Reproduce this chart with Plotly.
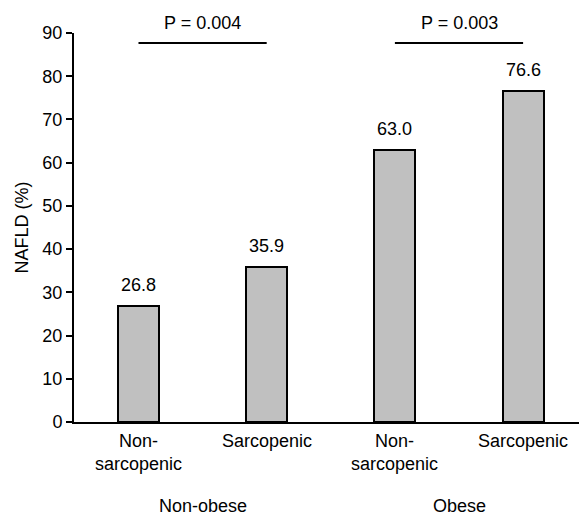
import plotly.graph_objects as go

categories = ["Non-<br>sarcopenic", "Sarcopenic", "Non-<br>sarcopenic", "Sarcopenic"]
values = [26.8, 35.9, 63.0, 76.6]
value_labels = ["26.8", "35.9", "63.0", "76.6"]
groups = ["Non-obese", "Obese"]
p_values = ["P = 0.004", "P = 0.003"]
y_ticks = [0, 10, 20, 30, 40, 50, 60, 70, 80, 90]
sig_level = 87.7

FONT = "Liberation Sans, Arial, sans-serif"
FS = 18
x_idx = list(range(len(values)))

fig = go.Figure()
fig.add_trace(go.Bar(
    x=x_idx, y=values, width=0.32,
    marker=dict(color="#c0c0c0", line=dict(color="black", width=2)),
    hoverinfo="skip", showlegend=False,
))

annotations = []
for i, (v, t) in enumerate(zip(values, value_labels)):
    annotations.append(dict(x=i, y=v, xref="x", yref="y", text=t, showarrow=False,
                            yanchor="bottom", yshift=9, font=dict(size=FS, color="black", family=FONT)))
for i, c in enumerate(categories):
    annotations.append(dict(x=i, y=0, xref="x", yref="y", text=c, showarrow=False,
                            yanchor="top", yshift=-7, font=dict(size=FS, color="black", family=FONT)))
for g, (grp, p) in enumerate(zip(groups, p_values)):
    mid = 2 * g + 0.5
    annotations.append(dict(x=mid, y=-0.216, xref="x", yref="paper", text=grp, showarrow=False,
                            yanchor="middle", borderpad=0,
                            font=dict(size=FS, color="black", family=FONT)))
    annotations.append(dict(x=mid, y=sig_level, xref="x", yref="y", text=p, showarrow=False,
                            yanchor="bottom", yshift=8, font=dict(size=FS, color="black", family=FONT)))
    fig.add_shape(type="line", x0=2 * g, x1=2 * g + 1, y0=sig_level, y1=sig_level,
                  xref="x", yref="y", line=dict(color="black", width=2))

annotations.append(dict(x=-0.103, y=0.5, xref="paper", yref="paper", text="NAFLD (%)", showarrow=False,
                        textangle=-90, xanchor="center", yanchor="middle",
                        font=dict(size=FS, color="black", family=FONT)))

fig.update_layout(
    width=579, height=515,
    margin=dict(l=74, r=0, t=33, b=93),
    paper_bgcolor="white", plot_bgcolor="white",
    annotations=annotations,
    font=dict(family=FONT, size=FS, color="black"),
    bargap=0,
)
fig.update_xaxes(range=[-0.503, 3.436], showticklabels=False, ticks="", showgrid=False,
                 zeroline=False, showline=True, linecolor="black", linewidth=2, fixedrange=True)
fig.update_yaxes(range=[0, 90], tickvals=y_ticks, ticks="outside", ticklen=6, tickwidth=2,
                 tickcolor="black", showgrid=False, zeroline=False, showline=True,
                 linecolor="black", linewidth=2, tickfont=dict(size=FS, color="black", family=FONT),
                 fixedrange=True)

fig.write_html("out.html", config={"displayModeBar": False},
               post_script="document.body.style.margin='0px';document.body.style.overflow='hidden';")
